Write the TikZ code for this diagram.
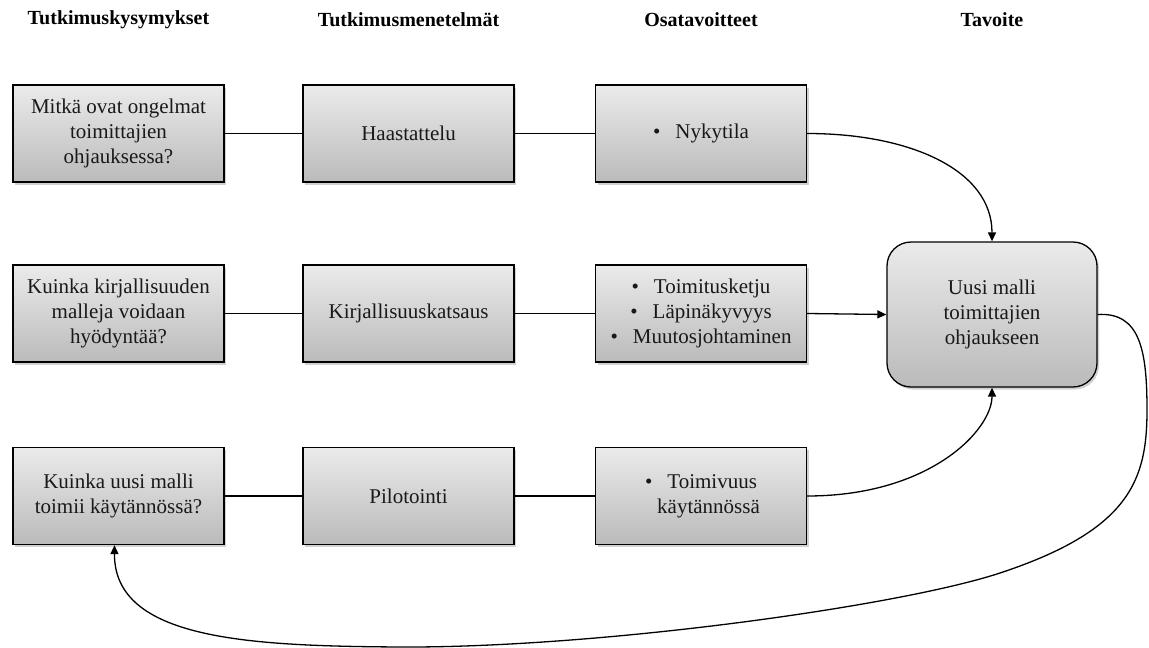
\documentclass[tikz,border=0pt]{standalone}
\usepackage{fontspec}
\setmainfont{Liberation Serif}
\usetikzlibrary{arrows.meta,shadows}
\begin{document}
\begin{tikzpicture}[x=1pt,y=-1pt,
  box/.style={draw=black,line width=1.3pt,rectangle,minimum width=211pt,minimum height=97pt,
    top color=black!8,bottom color=black!27,align=center,inner sep=2pt,
    font=\fontsize{21}{25}\selectfont,text=black!90,
    drop shadow={shadow xshift=2pt,shadow yshift=-2.5pt,opacity=0.3,fill=black!60}},
  goal/.style={box,rounded corners=24pt,minimum width=210pt,minimum height=145pt},
  head/.style={font=\fontsize{20}{24}\selectfont\bfseries,anchor=center},
  link/.style={line width=1.3pt,draw=black},
  flow/.style={link,-{Triangle[length=9pt,width=8pt]}}]
\useasboundingbox (0,0) rectangle (1149,648);

% column headings
\node[head] (h1) at (118.5,20) {Tutkimuskysymykset};
\node[head] (h2) at (408.5,20) {Tutkimusmenetelmät};
\node[head] (h3) at (701,20) {Osatavoitteet};
\node[head] (h4) at (992,20) {Tavoite};

% row 1
\node[box] (q1) at (118.5,133.5) {Mitkä ovat ongelmat\\toimittajien\\ohjauksessa?};
\node[box] (m1) at (408.5,133.5) {Haastattelu};
\node[box] (s1) at (701,133.5) {\textbullet\hspace{15pt}Nykytila};

% row 2
\node[box] (q2) at (118.5,313.5) {Kuinka kirjallisuuden\\malleja voidaan\\hyödyntää?};
\node[box] (m2) at (408.5,313.5) {Kirjallisuuskatsaus};
\node[box] (s2) at (701,313.5) {\textbullet\hspace{15pt}Toimitusketju\\\textbullet\hspace{15pt}Läpinäkyvyys\\\textbullet\hspace{15pt}Muutosjohtaminen};

% row 3
\node[box] (q3) at (118.5,496) {Kuinka uusi malli\\toimii käytännössä?};
\node[box] (m3) at (408.5,496) {Pilotointi};
\node[box] (s3) at (701,496) {\textbullet\hspace{15pt}Toimivuus\\\hspace{15pt}käytännössä};

% goal
\node[goal] (g) at (992,314.5) {Uusi malli\\toimittajien\\ohjaukseen};

% straight links within rows
\draw[link] (q1.east) -- (m1.west);
\draw[link] (m1.east) -- (s1.west);
\draw[link] (q2.east) -- (m2.west);
\draw[link] (m2.east) -- (s2.west);
\draw[link] (q3.east) -- (m3.west);
\draw[link] (m3.east) -- (s3.west);

% sub-goals into the goal
\draw[flow] (s1.east) .. controls (910,133.5) and (992,170) .. (g.north);
\draw[flow] (s2.east) -- (g.west);
\draw[flow] (s3.east) .. controls (930,496) and (992,430) .. (g.south);

% feedback loop from the goal back to the last question
\coordinate (r1) at (1147,410);
\coordinate (r2) at (1000,573);
\coordinate (r3) at (400,647);
\draw[flow] (g.east) .. controls (1140,312) and (1147,350) .. (r1)
  .. controls (1147,480) and (1130,530) .. (r2)
  .. controls (900,606) and (600,648) .. (r3)
  .. controls (250,646) and (114,640) .. ([xshift=-4pt]q3.south);
\end{tikzpicture}
\end{document}
